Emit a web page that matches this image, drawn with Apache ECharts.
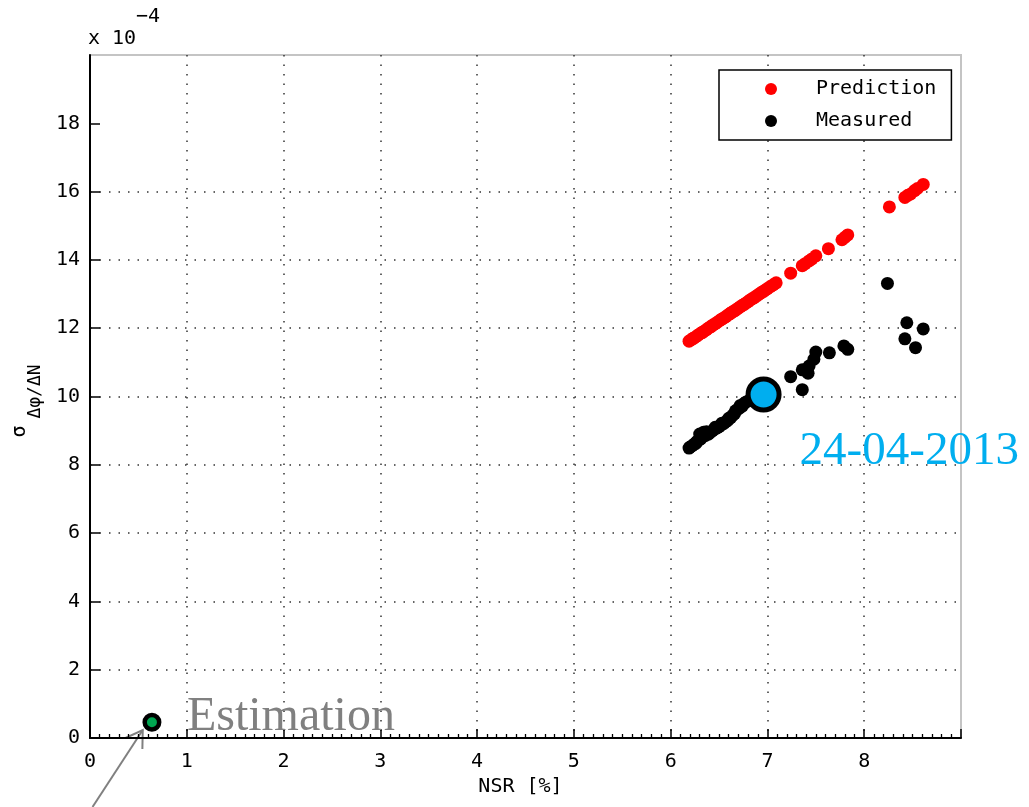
<!DOCTYPE html>
<html><head><meta charset="utf-8">
<script src="https://cdn.jsdelivr.net/npm/echarts@6/dist/echarts.min.js"></script>
<style>html,body{margin:0;padding:0;background:#fff}#c{width:1029px;height:807px}</style>
</head><body><div id="c"></div>
<script>
// ---- data ----
const xTickLabels = [0, 1, 2, 3, 4, 5, 6, 7, 8];
const yTickLabels = [0, 2, 4, 6, 8, 10, 12, 14, 16, 18];
const seriesNames = ['Prediction', 'Measured'];

const predictionNSR = [6.19,6.21,6.23,6.24,6.26,6.28,6.30,6.32,6.33,6.35,6.37,6.39,6.41,6.42,6.44,6.46,6.48,6.50,6.52,6.53,6.55,6.57,6.59,6.61,6.62,6.64,6.66,6.68,6.70,6.72,6.74,6.76,6.78,6.80,6.82,6.84,6.86,6.88,6.90,6.92,6.94,6.96,6.98,7.00,7.03,7.06,7.09,7.24,7.36,7.39,7.43,7.46,7.50,7.63,7.77,7.80,7.83,8.26,8.42,8.45,8.48,8.52,8.55,8.61];
const predictionSigma = [11.62,11.66,11.70,11.71,11.75,11.79,11.83,11.87,11.88,11.92,11.96,12.00,12.04,12.05,12.10,12.13,12.17,12.21,12.25,12.27,12.30,12.34,12.38,12.42,12.44,12.48,12.51,12.55,12.59,12.63,12.67,12.70,12.74,12.78,12.82,12.86,12.89,12.93,12.97,13.01,13.05,13.08,13.12,13.16,13.22,13.27,13.33,13.61,13.83,13.89,13.97,14.03,14.12,14.33,14.59,14.66,14.73,15.55,15.83,15.89,15.93,16.03,16.09,16.21];

const measuredNSR = [6.19,6.20,6.22,6.24,6.26,6.27,6.29,6.30,6.31,6.33,6.34,6.36,6.37,6.39,6.41,6.43,6.45,6.46,6.48,6.50,6.52,6.53,6.55,6.57,6.59,6.60,6.62,6.64,6.66,6.67,6.69,6.71,6.72,6.74,6.76,6.78,6.81,6.84,6.88,6.92,7.24,7.36,7.36,7.42,7.43,7.48,7.50,7.64,7.79,7.83,8.24,8.44,8.61,8.42,8.53];
const measuredSigma = [8.49,8.52,8.55,8.60,8.63,8.68,8.72,8.90,8.76,8.82,8.95,8.86,8.97,8.90,8.95,8.99,9.04,9.10,9.08,9.12,9.16,9.22,9.21,9.26,9.30,9.36,9.38,9.45,9.50,9.58,9.62,9.66,9.74,9.72,9.80,9.84,9.88,9.92,9.97,10.02,10.58,10.20,10.78,10.68,10.89,11.09,11.30,11.28,11.48,11.38,13.31,12.16,11.98,11.69,11.43];

const highlightNSR = [6.96];
const highlightSigma = [10.06];
const highlightLabel = '24-04-2013';

const estimationNSR = [0.64];
const estimationSigma = [0.46];
const estimationLabel = 'Estimation';

const yNameMain = 'σ';
const yNameSub = 'Δφ/ΔN';
const exponentBase = 'x 10';
const exponentPower = '−4';

// ---- build ----
const zip = (a, b) => a.map((v, i) => [v, b[i]]);
const mono = 'DejaVu Sans Mono';
const gridDots = { color: '#333', width: 1.5, type: [1.5, 8] };

const chart = echarts.init(document.getElementById('c'));
chart.setOption({
  animation: false,
  backgroundColor: '#fff',
  grid: { left: 90, right: 68, top: 55, bottom: 69, show: true, borderColor: '#c4c4c4', borderWidth: 2, backgroundColor: '#fff' },
  legend: {
    data: seriesNames, orient: 'vertical', left: 719, top: 70,
    padding: [9, 15, 9, 46], itemWidth: 12, itemHeight: 12, itemGap: 12,
    icon: 'circle', borderColor: '#000', borderWidth: 1.5, backgroundColor: '#fff',
    textStyle: { fontFamily: mono, fontSize: 20, color: '#000', lineHeight: 20, padding: [0, 0, 0, 34] },
    selectedMode: false
  },
  xAxis: {
    type: 'value', min: 0, max: 9, interval: 1,
    name: 'NSR [%]', nameLocation: 'middle', nameGap: 39,
    nameTextStyle: { fontFamily: mono, fontSize: 20, color: '#000', padding: [0, 10, 0, 0] },
    axisLine: { show: true, onZero: false, lineStyle: { color: '#000', width: 2 } },
    axisTick: { show: true, inside: true, length: 9, lineStyle: { color: '#000', width: 1.5 } },
    minorTick: { show: true, splitNumber: 10, length: 4, lineStyle: { color: '#000', width: 1.3 } },
    axisLabel: { customValues: xTickLabels, margin: 14, fontFamily: mono, fontSize: 20, color: '#000' },
    splitLine: { show: true, showMinLine: false, showMaxLine: false, lineStyle: gridDots }
  },
  yAxis: {
    type: 'value', min: 0, max: 20, interval: 2,
    axisLine: { show: true, onZero: false, lineStyle: { color: '#000', width: 2 } },
    axisTick: { show: true, inside: true, length: 10, customValues: yTickLabels, lineStyle: { color: '#000', width: 1.5 } },
    axisLabel: { customValues: yTickLabels, margin: 10, fontFamily: mono, fontSize: 20, color: '#000' },
    splitLine: { show: true, showMinLine: false, showMaxLine: false, lineStyle: gridDots }
  },
  series: [
    { name: seriesNames[0], type: 'scatter', data: zip(predictionNSR, predictionSigma), symbol: 'circle', symbolSize: 13, itemStyle: { color: '#ff0000', opacity: 1 }, silent: true },
    { name: seriesNames[1], type: 'scatter', data: zip(measuredNSR, measuredSigma), symbol: 'circle', symbolSize: 13, itemStyle: { color: '#000000', opacity: 1 }, silent: true },
    { name: 'highlight', type: 'scatter', data: zip(highlightNSR, highlightSigma), symbol: 'circle', symbolSize: 31, silent: true,
      itemStyle: { color: '#00aeef', borderColor: '#000', borderWidth: 5, opacity: 1 },
      label: { show: true, formatter: highlightLabel, position: 'inside', align: 'left', verticalAlign: 'middle', offset: [36, 57], fontFamily: 'Liberation Serif', fontSize: 47, color: '#00aeef' } },
    { name: 'estimation', type: 'scatter', data: zip(estimationNSR, estimationSigma), symbol: 'circle', symbolSize: 14.5, silent: true,
      itemStyle: { color: '#00a651', borderColor: '#000', borderWidth: 4.5, opacity: 1 },
      label: { show: true, formatter: estimationLabel, position: 'inside', align: 'left', verticalAlign: 'middle', offset: [35, -5], fontFamily: 'Liberation Serif', fontSize: 48, color: '#808080' } }
  ]
});

// annotations: arrow toward the estimation point, the y-axis title and the axis exponent
const arrowTail = chart.convertToPixel({ gridIndex: 0 }, [0.026, -2.02]);
const arrowTip = chart.convertToPixel({ gridIndex: 0 }, [0.545, 0.235]);
const ang = Math.atan2(arrowTail[1] - arrowTip[1], arrowTail[0] - arrowTip[0]);
const L = 19, spread = 32 * Math.PI / 180;
const w1 = [arrowTip[0] + L * Math.cos(ang + spread), arrowTip[1] + L * Math.sin(ang + spread)];
const w2 = [arrowTip[0] + L * Math.cos(ang - spread), arrowTip[1] + L * Math.sin(ang - spread)];
const corner = chart.convertToPixel({ gridIndex: 0 }, [0, 20]);
const mid = chart.convertToPixel({ gridIndex: 0 }, [0, 10]);
chart.setOption({
  graphic: [
    { type: 'polyline', silent: true, shape: { points: [arrowTail, arrowTip] }, style: { stroke: '#808080', lineWidth: 2, fill: null } },
    { type: 'polyline', silent: true, shape: { points: [w1, arrowTip, w2] }, style: { stroke: '#808080', lineWidth: 2, fill: null } },
    { type: 'text', silent: true, x: corner[0] - 2, y: corner[1] - 16, style: { text: exponentBase, font: '20px "DejaVu Sans Mono"', fill: '#000', textAlign: 'left', textVerticalAlign: 'middle' } },
    { type: 'text', silent: true, x: corner[0] + 46, y: corner[1] - 38, style: { text: exponentPower, font: '20px "DejaVu Sans Mono"', fill: '#000', textAlign: 'left', textVerticalAlign: 'middle' } },
    { type: 'text', silent: true, x: mid[0] - 70, y: mid[1] + 35, rotation: Math.PI / 2, style: { text: yNameMain, font: '20px "DejaVu Sans Mono"', fill: '#000', textAlign: 'center', textVerticalAlign: 'middle' } },
    { type: 'text', silent: true, x: mid[0] - 55, y: mid[1] - 5, rotation: Math.PI / 2, style: { text: yNameSub, font: '18px "DejaVu Sans Mono"', fill: '#000', textAlign: 'center', textVerticalAlign: 'middle' } }
  ]
});
</script>
</body></html>
